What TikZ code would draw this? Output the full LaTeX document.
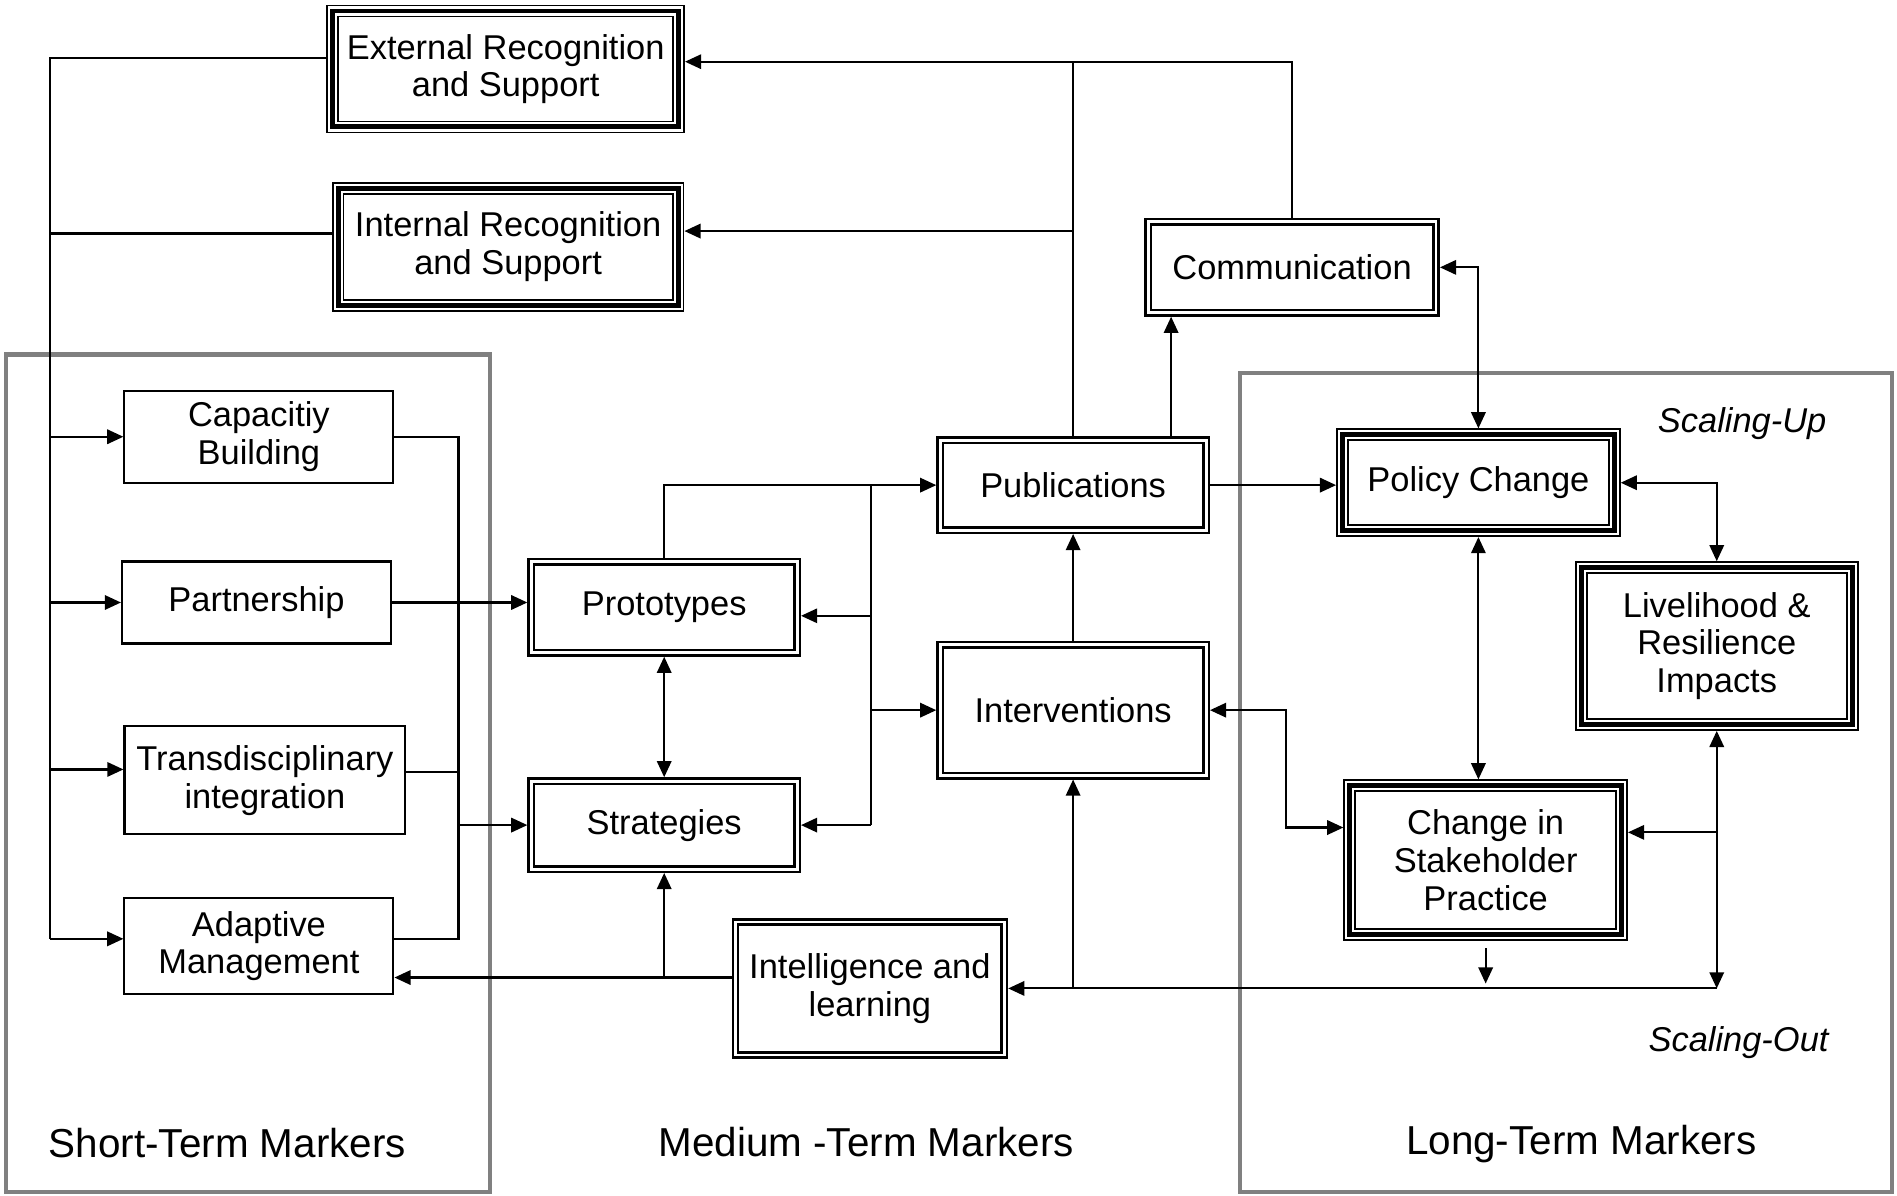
\documentclass[tikz,border=0pt]{standalone}
\usepackage{fontspec}
\setmainfont{Liberation Sans}
\usetikzlibrary{arrows.meta,calc}
\newcommand{\boxfont}{\fontsize{9.8}{10.7}\selectfont}
\newcommand{\markfont}{\fontsize{11.5}{13}\selectfont}
\tikzset{
	link/.style={line width=.6pt},
	arr/.style={line width=.6pt, -{Triangle[length=4.6pt,width=4.1pt]}},
	biarr/.style={line width=.6pt, {Triangle[length=4.6pt,width=4.1pt]}-{Triangle[length=4.6pt,width=4.1pt]}},
	sbox/.style={draw, line width=.6pt, inner sep=0pt, align=center, font=\boxfont},
	dblbox/.style={sbox, double, line width=.7pt, double distance=.8pt, outer sep=1.1pt},
	tribox/.style={sbox, line width=1.4pt, outer sep=1.8pt,
		preaction={draw, line width=3.6pt},
		preaction={draw=white, line width=2.6pt}},
	group/.style={draw=black!50, line width=1.2pt},
	marker/.style={font=\markfont}
}

\begin{document}
\begin{tikzpicture}[x=0.0121cm, y=-0.0121cm]
	\useasboundingbox (0,0) rectangle (1568,988);
	\draw[group] (5,293) rectangle (405,985);
	\draw[group] (1025,308) rectangle (1564,985);
%
	\node[tribox, minimum width=3.46cm, minimum height=1.16cm] (ext) at (418,57) {External Recognition\\and Support};
	\node[tribox, minimum width=3.40cm, minimum height=1.17cm] (int) at (420,204) {Internal Recognition\\and Support};
	\node[dblbox, minimum width=2.88cm, minimum height=.91cm] (comm) at (1068,221) {Communication};
%
	\node[sbox, minimum width=2.69cm, minimum height=.92cm] (cap) at (214,361) {Capacitiy\\Building};
	\node[sbox, minimum width=2.69cm, minimum height=.82cm] (part) at (212,498) {Partnership};
	\node[sbox, minimum width=2.81cm, minimum height=1.08cm] (trans) at (219,645) {Transdisciplinary\\integration};
	\node[sbox, minimum width=2.69cm, minimum height=.96cm] (adapt) at (214,782) {Adaptive\\Management};
%
	\node[dblbox, minimum width=2.66cm, minimum height=.91cm] (proto) at (549,502) {Prototypes};
	\node[dblbox, minimum width=2.66cm, minimum height=.88cm] (strat) at (549,682) {Strategies};
	\node[dblbox, minimum width=2.66cm, minimum height=.90cm] (pub) at (887,401) {Publications};
	\node[dblbox, minimum width=2.66cm, minimum height=1.31cm] (interv) at (887,587) {Interventions};
	\node[dblbox, minimum width=2.69cm, minimum height=1.33cm] (intel) at (719,817) {Intelligence and\\learning};
%
	\node[tribox, minimum width=2.72cm, minimum height=.96cm] (policy) at (1222,399) {Policy Change};
	\node[tribox, minimum width=2.71cm, minimum height=1.57cm] (live) at (1419,534) {Livelihood \&\\Resilience\\Impacts};
	\node[tribox, minimum width=2.72cm, minimum height=1.49cm] (stake) at (1228,711) {Change in\\Stakeholder\\Practice};
%
	\node[marker] (shortlbl) at (188,945) {Short-Term Markers};
	\node[marker] (medlbl) at (716,944) {Medium -Term Markers};
	\node[marker] (longlbl) at (1307,946) {Long-Term Markers};
	\node[font=\boxfont\itshape] (uplbl) at (1440,350) {Scaling-Up};
	\node[font=\boxfont\itshape] (outlbl) at (1437,862) {Scaling-Out};
%
	% left and right bus of the short-term markers
	\coordinate (lbus) at (41,0);
	\coordinate (rbus) at (379,0);
	\coordinate (mbus) at (720,0);
	\coordinate (ea) at ($(ext.west)+(0,-9)$);
	\coordinate (ia) at ($(int.west)+(0,-11)$);
	\coordinate (ta) at ($(trans.west)+(0,-9)$);
	\coordinate (aa) at ($(adapt.west)+(0,-6)$);
	\draw[link] (ea) -| (lbus |- aa);
	\draw[link] (ia) -- (lbus |- ia);
	\draw[arr] (lbus |- cap.west) -- (cap.west);
	\draw[arr] (lbus |- part.west) -- (part.west);
	\draw[arr] (lbus |- ta) -- (ta);
	\draw[arr] (lbus |- aa) -- (aa);
	\coordinate (tb) at ($(trans.east)+(0,-7)$);
	\coordinate (ab) at ($(adapt.east)+(0,-6)$);
	\draw[link] (cap.east) -| (rbus |- ab) -- (ab);
	\draw[link] (tb) -- (rbus |- tb);
	\draw[arr] (part.east) -- (part.east -| proto.west);
	\draw[arr] (rbus |- strat.west) -- (strat.west);
%
	% medium-term markers
	\coordinate (pe) at ($(proto.east)+(0,7)$);
	\draw[arr] (proto.north) |- (pub.west);
	\draw[link] (mbus |- pub.west) -- (mbus |- strat.east);
	\draw[arr] (mbus |- pe) -- (pe);
	\draw[arr] (mbus |- interv.west) -- (interv.west);
	\draw[arr] (mbus |- strat.east) -- (strat.east);
	\draw[biarr] (proto.south) -- (strat.north);
	\coordinate (il) at ($(intel.west)+(0,-9)$);
	\draw[arr] (il) -- (il -| adapt.east);
	\draw[arr] (il -| strat.south) -- (strat.south);
	\draw[arr] (interv.north) -- (pub.south);
%
	\coordinate (ee) at ($(ext.east)+(0,-6)$);
	\coordinate (ie) at ($(int.east)+(0,-13)$);
	\coordinate (pc) at ($(pub.north)+(81,0)$);
	\draw[arr] (comm.north) |- (ee);
	\draw[link] (pub.north) -- (pub.north |- ee);
	\draw[arr] (pub.north |- ie) -- (ie);
	\draw[arr] (pc) -- (pc |- comm.south);
	\draw[biarr] (comm.east) -| (policy.north);
	\draw[arr] (pub.east) -- (pub.east -| policy.west);
%
	% long-term markers
	\draw[biarr] (policy.east) -| (live.north);
	\draw[biarr] (policy.south) -- (policy.south |- stake.north);
	\coordinate (sw) at ($(stake.west)+(0,-27)$);
	\coordinate (se) at ($(stake.east)+(0,-23)$);
	\coordinate (ll) at (live.south |- intel.east);
	\draw[biarr] (interv.east) -- ++(63,0) |- (sw);
	\draw[biarr] (live.south) -- (ll);
	\draw[arr] (live.south |- se) -- (se);
	\draw[arr] (ll) -- (intel.east);
	\draw[arr] ($(stake.south)+(0,6)$) -- ($(stake.south |- ll)+(0,-4)$);
	\draw[arr] (interv.south |- ll) -- (interv.south);
\end{tikzpicture}
\end{document}
